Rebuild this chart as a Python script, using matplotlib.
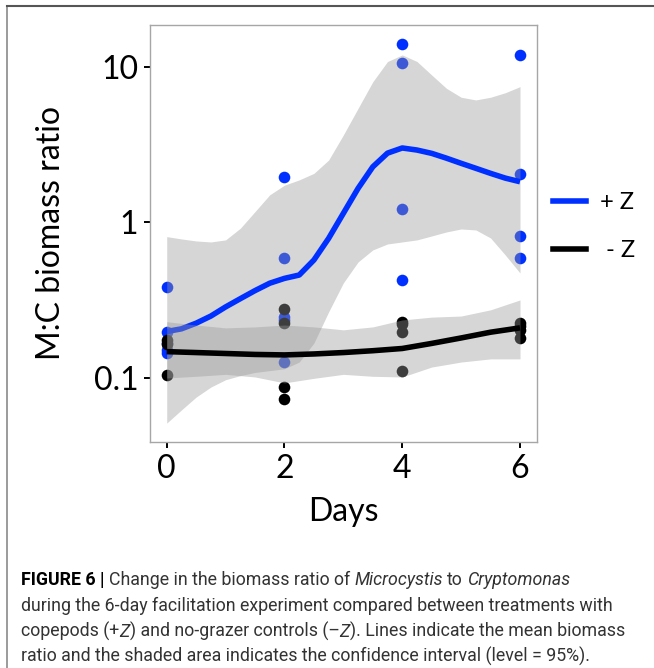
import numpy as np
import matplotlib
matplotlib.use("Agg")
import matplotlib.pyplot as plt
from matplotlib.lines import Line2D

# ---------------- data ----------------
plus_days = [0, 0, 0, 0, 0, 2, 2, 2, 2, 2, 4, 4, 4, 4, 6, 6, 6, 6]
plus_vals = [0.385, 0.198, 0.167, 0.150, 0.145,
             1.94, 0.59, 0.245, 0.235, 0.127,
             14.0, 10.6, 1.21, 0.425,
             11.9, 2.03, 0.81, 0.59]

minus_days = [0, 0, 0, 2, 2, 2, 2, 4, 4, 4, 4, 6, 6, 6, 6]
minus_vals = [0.175, 0.165, 0.104,
              0.277, 0.225, 0.0875, 0.073,
              0.229, 0.222, 0.198, 0.110,
              0.225, 0.215, 0.203, 0.180]

# smoothed mean and confidence band (+Z)
plus_fit_x = [0, 0.25, 0.5, 0.75, 1.0, 1.25, 1.5, 1.75, 2.0, 2.25, 2.5, 2.75, 3.0,
              3.25, 3.5, 3.75, 4.0, 4.25, 4.5, 4.75, 5.0, 5.25, 5.5, 5.75, 6.0]
plus_fit = [0.198, 0.206, 0.224, 0.249, 0.285, 0.322, 0.363, 0.405, 0.435, 0.457,
            0.571, 0.787, 1.14, 1.65, 2.27, 2.78, 3.0, 2.91, 2.77, 2.58, 2.39,
            2.22, 2.06, 1.92, 1.82]
plus_hi = [0.807, 0.78, 0.757, 0.746, 0.769, 0.914, 1.17, 1.50, 1.73, 1.87,
           2.06, 2.51, 3.64, 5.40, 8.0, 10.8, 11.9, 10.8, 8.84, 7.26, 6.36,
           6.11, 6.36, 6.80, 7.44]
plus_lo = [0.051, 0.062, 0.075, 0.087, 0.097, 0.103, 0.108, 0.111, 0.114, 0.126,
           0.167, 0.265, 0.407, 0.555, 0.663, 0.724, 0.746, 0.769, 0.815, 0.865,
           0.904, 0.891, 0.791, 0.615, 0.471]

# smoothed mean and confidence band (-Z)
minus_fit_x = [0, 0.5, 1.0, 1.5, 2.0, 2.5, 3.0, 3.5, 4.0, 4.5, 5.0, 5.5, 6.0]
minus_fit = [0.147, 0.145, 0.143, 0.141, 0.140, 0.142, 0.145, 0.149, 0.154,
             0.166, 0.180, 0.196, 0.209]
minus_hi = [0.229, 0.218, 0.209, 0.212, 0.218, 0.212, 0.203, 0.212, 0.235,
            0.245, 0.249, 0.273, 0.316]
minus_lo = [0.0995, 0.102, 0.105, 0.101, 0.0925, 0.099, 0.105, 0.102, 0.101,
            0.117, 0.126, 0.132, 0.132]

x_ticks = [0, 2, 4, 6]
y_ticks = [0.1, 1, 10]
y_ticklabels = ["0.1", "1", "10"]
legend_labels = ["+ Z", " - Z"]

BLUE = "#0030ff"
W, H = 654, 668

fig = plt.figure(figsize=(W / 100, H / 100), dpi=100)
plt.rcParams['font.family'] = ['Lato', 'DejaVu Sans']

ax = fig.add_axes([150 / W, 1 - 441.7 / H, 386.5 / W, 417 / H])
ax.set_yscale('log')
ax.set_xlim(-0.284, 6.28)
ax.set_ylim(10 ** -1.412, 10 ** 1.270)

ax.scatter(plus_days, plus_vals, s=70, color=BLUE, linewidths=0, zorder=1)
ax.scatter(minus_days, minus_vals, s=70, color="black", linewidths=0, zorder=1)

ax.fill_between(plus_fit_x, plus_lo, plus_hi, color="#999999", alpha=0.4,
                linewidth=0, zorder=2)
ax.plot(plus_fit_x, plus_fit, color=BLUE, lw=4, solid_capstyle='butt',
        solid_joinstyle='round', zorder=3)
ax.fill_between(minus_fit_x, minus_lo, minus_hi, color="#999999", alpha=0.4,
                linewidth=0, zorder=4)
ax.plot(minus_fit_x, minus_fit, color="black", lw=4, solid_capstyle='butt',
        solid_joinstyle='round', zorder=5)

for s in ax.spines.values():
    s.set_color("#a6a6a6")
    s.set_linewidth(1.0)

ax.set_xticks(x_ticks)
ax.set_xticklabels([str(t) for t in x_ticks])
ax.set_yticks(y_ticks)
ax.set_yticklabels(y_ticklabels)
ax.yaxis.set_minor_locator(matplotlib.ticker.NullLocator())
ax.tick_params(axis='both', length=4.5, width=1.4, color='black', labelsize=23,
               labelcolor='black')
ax.tick_params(axis='x', pad=4)
ax.tick_params(axis='y', pad=4)
ax.set_xlabel("Days", fontsize=23, labelpad=10)
ax.set_ylabel("M:C biomass ratio", fontsize=23, labelpad=20)

handles = [Line2D([], [], color=BLUE, lw=4), Line2D([], [], color="black", lw=4)]
fig.legend(handles, legend_labels, loc='center left',
           bbox_to_anchor=(553 / W, 1 - 226.5 / H), frameon=False, fontsize=17,
           handlelength=1.4, labelspacing=1.15, handletextpad=0.6, borderpad=0,
           borderaxespad=0)

# outer frame lines
fig.add_artist(Line2D([7 / W, 7 / W], [0, 1 - 6 / H], transform=fig.transFigure,
                      color="#8a8a8a", lw=1.2))
fig.add_artist(Line2D([7 / W, 1], [1 - 6 / H, 1 - 6 / H], transform=fig.transFigure,
                      color="#555555", lw=1.5))

# ---------------- caption ----------------
cap_lines = [
    [("FIGURE 6 |", "bold"), ("Change in the biomass ratio of", "normal"),
     ("Microcystis", "italic"), ("to", "normal"), ("Cryptomonas", "italic")],
    [("during the 6-day facilitation experiment compared between treatments with", "normal")],
    [("copepods (+", "normal"), ("Z", "italic_nosp"), (") and no-grazer controls (\u2013", "normal_nosp"),
     ("Z", "italic_nosp"), ("). Lines indicate the mean biomass", "normal_nosp")],
    [("ratio and the shaded area indicates the confidence interval (level = 95%).", "normal")],
]
cap_font = ['Roboto', 'Liberation Sans', 'DejaVu Sans']
cap_color = "#333333"
baselines = [585, 611, 637, 662]

renderer = fig.canvas.get_renderer()


def txt_width(s, weight, style, size):
    t = fig.text(0, 0, s, fontsize=size, family=cap_font, weight=weight, style=style)
    w = t.get_window_extent(renderer).width
    t.remove()
    return w


def line_layout(line, size):
    sp = txt_width("a a", "normal", "normal", size) - txt_width("aa", "normal", "normal", size)
    out = []
    x = 0
    for i, (s, kind) in enumerate(line):
        weight = "bold" if kind == "bold" else "normal"
        style = "italic" if kind.startswith("italic") else "normal"
        if i > 0 and not kind.endswith("nosp"):
            x += sp
        out.append((x, s, weight, style, kind))
        x += txt_width(s, weight, style, size)
    return out, x


# fit the caption font size so the third line spans the same width as in the figure
trial = 12.0
_, w3 = line_layout(cap_lines[2], trial)
cap_size = trial * 603.0 / w3

for line, yb in zip(cap_lines, baselines):
    items, _ = line_layout(line, cap_size)
    for x, s, weight, style, kind in items:
        color = "black" if kind == "bold" else cap_color
        fig.text((21 + x) / W, 1 - yb / H, s, fontsize=cap_size, family=cap_font,
                 weight=weight, style=style, color=color, va='baseline', ha='left')

fig.savefig("out.png", dpi=100)
